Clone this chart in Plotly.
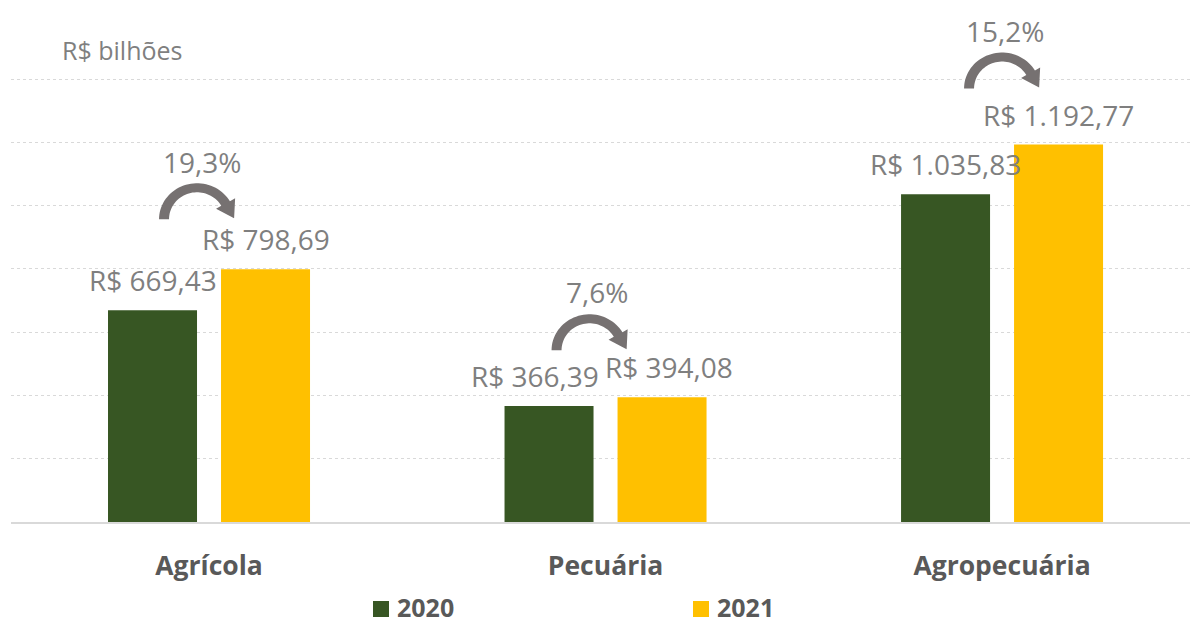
import numpy as np
import plotly.graph_objects as go

categories = ["Agrícola", "Pecuária", "Agropecuária"]
values_2020 = [669.43, 366.39, 1035.83]
values_2021 = [798.69, 394.08, 1192.77]
labels_2020 = ["R$ 669,43", "R$ 366,39", "R$ 1.035,83"]
labels_2021 = ["R$ 798,69", "R$ 394,08", "R$ 1.192,77"]
growth_labels = ["19,3%", "7,6%", "15,2%"]
series_names = ["2020", "2021"]
unit_label = "R$ bilhões"
grid_values = [0, 200, 400, 600, 800, 1000, 1200, 1400]

GREEN = "#375623"
YELLOW = "#FFC000"
GRAY_TXT = "#7F7F7F"
DARK_TXT = "#595959"
ARROW = "#767171"
FONT = "Open Sans"
COLORS = [GREEN, YELLOW]

# per-category label nudges (pixels), as in the original layout
lbl20_dx = [0, -14, 0]
lbl21_dx = [0, 7, 0]
pct_dx = [-7, -9, 3]
pct_dy = [107, 105, 114]
arr_dx = [0, -4, 12]
arr_dy = [0, -3, 6]

W, H = 1190, 625
ML, MB = 11, 103
PLOT_H = H - MB  # 522
PLOT_W = W - ML


def px_x(p):
    return (p - ML) / PLOT_W


def px_y(p):
    return (PLOT_H - p) / PLOT_H


fig = go.Figure()
for nm, vals, col in zip(series_names, [values_2020, values_2021], COLORS):
    fig.add_trace(go.Bar(x=categories, y=vals, name=nm,
                         marker=dict(color=col, line=dict(width=0)), showlegend=False))

annotations = []
for i, cat in enumerate(categories):
    annotations.append(dict(x=cat, y=values_2020[i], xref="x", yref="y", text=labels_2020[i],
                            showarrow=False, xshift=-56.5 + lbl20_dx[i], yshift=30, yanchor="middle",
                            font=dict(family=FONT, size=28, color=GRAY_TXT)))
    annotations.append(dict(x=cat, y=values_2021[i], xref="x", yref="y", text=labels_2021[i],
                            showarrow=False, xshift=56.5 + lbl21_dx[i], yshift=30, yanchor="middle",
                            font=dict(family=FONT, size=28, color=GRAY_TXT)))
    annotations.append(dict(x=cat, y=values_2021[i], xref="x", yref="y", text=growth_labels[i],
                            showarrow=False, xshift=pct_dx[i], yshift=pct_dy[i], yanchor="middle",
                            font=dict(family=FONT, size=28, color=GRAY_TXT)))
annotations.append(dict(x=px_x(122), y=px_y(50), xref="paper", yref="paper",
                        text=unit_label, showarrow=False, xanchor="center", yanchor="middle",
                        font=dict(family=FONT, size=25, color=GRAY_TXT)))


def arrow_path(dx, dy):
    cx, cy = -12.0 + dx, 50.0 + dy
    rxo, ryo, rxi, ryi = 38.0, 36.0, 28.0, 27.0
    th_end = np.deg2rad(30)
    angs = np.linspace(np.pi, th_end, 40)
    pts = [(cx + rxo * np.cos(a), cy + ryo * np.sin(a)) for a in angs]
    c, s = np.cos(th_end), np.sin(th_end)
    O = np.array([cx + rxo * c, cy + ryo * s])
    I = np.array([cx + rxi * c, cy + ryi * s])
    r = np.array([c, s])
    t = np.array([s, -c])
    mid = (O + I) / 2
    pts.append(tuple(O + 6 * r))
    pts.append(tuple(mid + 17 * t))
    pts.append(tuple(I - 6 * r))
    pts += [(cx + rxi * np.cos(a), cy + ryi * np.sin(a)) for a in angs[::-1]]
    return "M" + " L".join(f"{x:.2f},{y:.2f}" for x, y in pts) + " Z"


shapes = []
for i, cat in enumerate(categories):
    shapes.append(dict(type="path", path=arrow_path(arr_dx[i], arr_dy[i]), xref="x", yref="y",
                       xsizemode="pixel", ysizemode="pixel", xanchor=cat, yanchor=values_2021[i],
                       fillcolor=ARROW, line=dict(width=0), layer="above"))

# manual legend (square swatch + bold label)
legend_x = [373, 693]
legend_y = 607
for nm, col, lx in zip(series_names, COLORS, legend_x):
    shapes.append(dict(type="rect", xref="paper", yref="paper",
                       x0=px_x(lx), x1=px_x(lx + 16), y0=px_y(legend_y + 10), y1=px_y(legend_y - 6),
                       fillcolor=col, line=dict(width=0)))
    annotations.append(dict(x=px_x(lx + 22), y=px_y(legend_y), xref="paper", yref="paper",
                            text=f"<b>{nm}</b>", showarrow=False, xanchor="left", yanchor="middle",
                            font=dict(family=FONT, size=25, color=DARK_TXT)))

fig.update_layout(
    width=W, height=H,
    margin=dict(l=ML, r=0, t=0, b=MB, pad=0),
    paper_bgcolor="white", plot_bgcolor="white",
    barmode="group", bargap=0.43, bargroupgap=0.2124,
    font=dict(family=FONT, color=GRAY_TXT),
    annotations=annotations, shapes=shapes,
    showlegend=False,
    xaxis=dict(range=[-0.4994, 2.474], showgrid=False, showline=True, linecolor="#D9D9D9",
               linewidth=2, ticks="", ticklabelstandoff=19, automargin=False,
               tickfont=dict(family=FONT, size=26.5, color=DARK_TXT, weight="bold")),
    yaxis=dict(range=[0, 1400 * PLOT_H / 443], tickvals=grid_values, showgrid=True,
               gridcolor="#D9D9D9", griddash="dot", automargin=False,
               gridwidth=1, zeroline=False, showticklabels=False),
)

fig.write_html("out.html", config={"displayModeBar": False},
               post_script="document.body.style.margin='0';document.body.style.padding='0';")
